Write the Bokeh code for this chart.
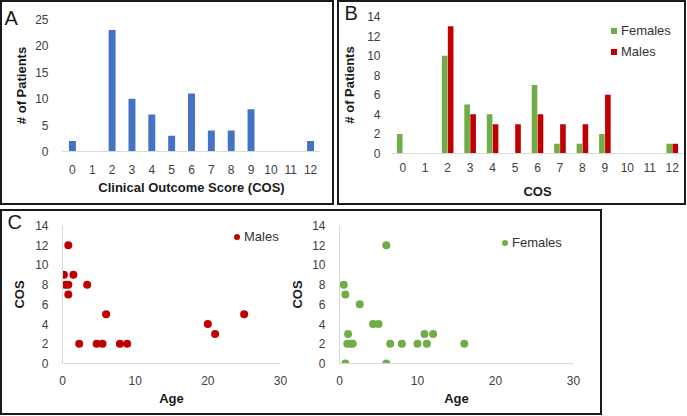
from bokeh.plotting import figure
from bokeh.models import (FactorRange, Range1d, SingleIntervalTicker,
                          Legend, LegendItem, ColumnDataSource)
from bokeh.layouts import row, column
from bokeh.transform import dodge
from bokeh.embed import file_html
from bokeh.resources import INLINE

# ---------------- data ----------------
cos_labels = ["0", "1", "2", "3", "4", "5", "6", "7", "8", "9", "10", "11", "12"]
all_patients = [2, 0, 23, 10, 7, 3, 11, 4, 4, 8, 0, 0, 2]
females = [2, 0, 10, 5, 4, 0, 7, 1, 1, 2, 0, 0, 1]
males = [0, 0, 13, 4, 3, 3, 4, 3, 3, 6, 0, 0, 1]

male_age = [0.8, 0.2, 1.5, 0.4, 0.8, 3.4, 0.8, 6.0, 2.3, 4.7, 5.5, 7.9, 8.9, 20.0, 21.0, 25.0]
male_cos = [12, 9, 9, 8, 8, 8, 7, 5, 2, 2, 2, 2, 2, 4, 3, 5]

female_age = [6.0, 0.55, 0.75, 2.6, 4.3, 5.0, 1.1, 10.9, 12.0, 1.0, 1.4, 1.7,
              6.5, 8.0, 10.0, 11.2, 16.0, 0.75, 6.0]
female_cos = [12, 8, 7, 6, 4, 4, 3, 3, 3, 2, 2, 2, 2, 2, 2, 2, 2, 0, 0]

panel_names = ["A", "B", "C"]

BLUE = "#4472C4"
GREEN = "#70AD47"
RED = "#C00000"
FONT = "Liberation Sans"
TICK_COLOR = "#404040"
TITLE_COLOR = "#1a1a1a"
AXIS_GRAY = "#d9d9d9"
BORDER = "2px solid #1a1a1a"
NAN = float("nan")


def base_style(p, xline=True, yline=False, x_standoff=7, y_standoff=9,
               xl_standoff=7, yl_standoff=7):
    p.grid.visible = False
    p.outline_line_color = None
    p.background_fill_color = "white"
    p.border_fill_color = "white"
    for ax in (p.xaxis[0], p.yaxis[0]):
        ax.major_tick_line_color = None
        ax.minor_tick_line_color = None
        ax.major_tick_out = 0
        ax.major_tick_in = 0
        ax.major_label_text_font = FONT
        ax.major_label_text_font_size = "12px"
        ax.major_label_text_color = TICK_COLOR
        ax.axis_label_text_font = FONT
        ax.axis_label_text_font_size = "13px"
        ax.axis_label_text_font_style = "bold"
        ax.axis_label_text_color = TITLE_COLOR
    p.xaxis[0].axis_line_color = AXIS_GRAY if xline else None
    p.yaxis[0].axis_line_color = AXIS_GRAY if yline else None
    p.xaxis[0].major_label_standoff = x_standoff
    p.yaxis[0].major_label_standoff = y_standoff
    p.xaxis[0].axis_label_standoff = xl_standoff
    p.yaxis[0].axis_label_standoff = yl_standoff


def panel_letter(p, txt, offset, standoff):
    p.title.text = txt
    p.title.align = "left"
    p.title.offset = offset
    p.title.standoff = standoff
    p.title.text_font = FONT
    p.title.text_font_size = "20px"
    p.title.text_font_style = "normal"
    p.title.text_color = TITLE_COLOR


def make_legend(items, vx, vy, spacing=6):
    return Legend(items=items, location=(vx, vy), padding=0, margin=0, spacing=spacing,
                  glyph_width=15, glyph_height=15, label_height=15, label_standoff=0,
                  label_text_font=FONT, label_text_font_size="13px",
                  label_text_color="#333333", border_line_color=None,
                  background_fill_color=None)


# ---------------- Panel A ----------------
pA = figure(width=330, height=201, x_range=FactorRange(factors=cos_labels),
            y_range=Range1d(0, 25), output_backend="svg", toolbar_location=None,
            min_border_left=60, min_border_right=12, min_border_top=17,
            min_border_bottom=52)
srcA = ColumnDataSource(dict(cos=cos_labels, n=all_patients))
pA.vbar(x="cos", top="n", width=0.35, source=srcA, fill_color=BLUE, line_color=None)
pA.yaxis[0].ticker = SingleIntervalTicker(interval=5)
pA.xaxis.axis_label = "Clinical Outcome Score (COS)"
pA.yaxis.axis_label = "# of Patients"
base_style(pA, x_standoff=13, xl_standoff=3, y_standoff=10, yl_standoff=3)
panel_letter(pA, panel_names[0], -58, -18)

# ---------------- Panel B ----------------
pB = figure(width=345, height=201, x_range=FactorRange(factors=cos_labels),
            y_range=Range1d(0, 14), output_backend="svg", toolbar_location=None,
            min_border_left=52, min_border_right=1, min_border_top=14,
            min_border_bottom=50)
srcB = ColumnDataSource(dict(cos=cos_labels, f=females, m=males))
pB.vbar(x=dodge("cos", -0.133, range=pB.x_range), top="f", width=0.25, source=srcB,
        fill_color=GREEN, line_color=None)
pB.vbar(x=dodge("cos", 0.133, range=pB.x_range), top="m", width=0.25, source=srcB,
        fill_color=RED, line_color=None)
proxy_f = pB.scatter(x=[cos_labels[0]], y=[NAN], marker="square",
                     fill_color=GREEN, line_color=None)
proxy_m = pB.scatter(x=[cos_labels[0]], y=[NAN], marker="square",
                     fill_color=RED, line_color=None)
pB.yaxis[0].ticker = SingleIntervalTicker(interval=2)
pB.xaxis.axis_label = "COS"
pB.yaxis.axis_label = "# of Patients"
base_style(pB, x_standoff=9, xl_standoff=9, y_standoff=7, yl_standoff=7)
pB.add_layout(make_legend([LegendItem(label="Females", renderers=[proxy_f]),
                           LegendItem(label="Males", renderers=[proxy_m])], 215, 94))
panel_letter(pB, panel_names[1], -47, -14)

# ---------------- Panel C ----------------
pC1 = figure(width=285, height=202, x_range=Range1d(0, 30), y_range=Range1d(0, 14),
             output_backend="svg", toolbar_location=None,
             min_border_left=60, min_border_right=7, min_border_top=14,
             min_border_bottom=50)
rm = pC1.scatter(x=male_age, y=male_cos, size=8, fill_color=RED, line_color=None)
pC1.xaxis[0].ticker = SingleIntervalTicker(interval=10)
pC1.yaxis[0].ticker = SingleIntervalTicker(interval=2)
pC1.xaxis.axis_label = "Age"
pC1.yaxis.axis_label = "COS"
base_style(pC1, xline=True, yline=True, x_standoff=8, xl_standoff=3,
           y_standoff=10, yl_standoff=5)
pC1.add_layout(make_legend([LegendItem(label="Males", renderers=[rm])], 167, 119))
panel_letter(pC1, panel_names[2], -55, -15)

pC2 = figure(width=313, height=202, x_range=Range1d(0, 30), y_range=Range1d(0, 14),
             output_backend="svg", toolbar_location=None,
             min_border_left=50, min_border_right=27, min_border_top=14,
             min_border_bottom=50)
rf = pC2.scatter(x=female_age, y=female_cos, size=8, fill_color=GREEN, line_color=None)
pC2.xaxis[0].ticker = SingleIntervalTicker(interval=10)
pC2.yaxis[0].ticker = SingleIntervalTicker(interval=2)
pC2.xaxis.axis_label = "Age"
pC2.yaxis.axis_label = "COS"
base_style(pC2, xline=True, yline=True, x_standoff=8, xl_standoff=3,
           y_standoff=10, yl_standoff=4)
pC2.add_layout(make_legend([LegendItem(label="Females", renderers=[rf])], 158, 113))

boxA = row(pA, styles={"border": BORDER})
boxB = row(pB, styles={"border": BORDER})
boxC = row(pC1, pC2, spacing=0, styles={"border": BORDER})
top_row = row(boxA, boxB, spacing=3)
layout = column(top_row, boxC, spacing=4)

open("out.html", "w").write(file_html(layout, INLINE))
